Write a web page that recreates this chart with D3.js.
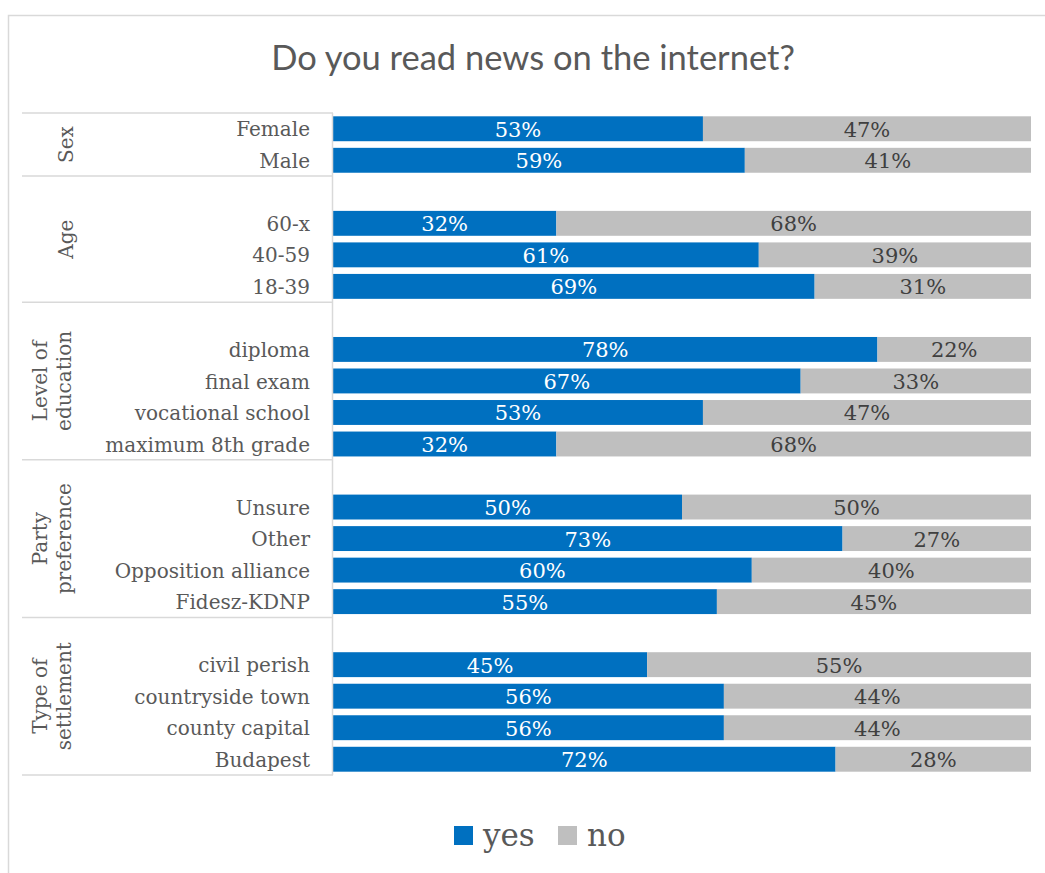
<!DOCTYPE html>
<html>
<head>
<meta charset="utf-8">
<script src="https://cdn.jsdelivr.net/npm/d3@7"></script>
<style>
  html, body { margin: 0; padding: 0; background: #fff; }
  svg { display: block; }
</style>
</head>
<body>
<svg id="chart" width="1045" height="873"></svg>
<script>
// Survey breakdown: share of respondents who read news online, by group
const groupNames = [["Sex"], ["Age"], ["Level of", "education"], ["Party", "preference"], ["Type of", "settlement"]];
const sexCats = ["Female", "Male"];
const sexYes = [53, 59];
const ageCats = ["60-x", "40-59", "18-39"];
const ageYes = [32, 61, 69];
const eduCats = ["diploma", "final exam", "vocational school", "maximum 8th grade"];
const eduYes = [78, 67, 53, 32];
const partyCats = ["Unsure", "Other", "Opposition alliance", "Fidesz-KDNP"];
const partyYes = [50, 73, 60, 55];
const settleCats = ["civil perish", "countryside town", "county capital", "Budapest"];
const settleYes = [45, 56, 56, 72];
const seriesNames = ["yes", "no"];
const seriesColors = ["#0070C0", "#BFBFBF"];

const groupCats = [sexCats, ageCats, eduCats, partyCats, settleCats];
const groupYes = [sexYes, ageYes, eduYes, partyYes, settleYes];

// Build the row list: each group after the first starts with an empty spacer row
const rows = [];
groupCats.forEach((cats, gi) => {
  if (gi > 0) rows.push({ id: "gap" + gi, group: gi, label: "", yes: null });
  cats.forEach((c, i) => {
    const yes = groupYes[gi][i];
    rows.push({ id: "r" + gi + "_" + i, group: gi, label: c, yes: yes, no: 100 - yes });
  });
});

const svg = d3.select("#chart");
const W = 1045, H = 873;
const plot = { left: 333, right: 1031, top: 113, bottom: 775 };
const axisLeft = 22;
const gridColor = "#D9D9D9";
const textColor = "#595959";
const serif = "'DejaVu Serif', serif";

// Chart frame (clipped by the page on the right and bottom)
svg.append("path")
  .attr("d", `M8.5,${H + 2} V15.5 H${W + 2}`)
  .attr("fill", "none").attr("stroke", gridColor).attr("stroke-width", 1.5);

// Title
svg.append("text")
  .attr("x", 533).attr("y", 70)
  .attr("text-anchor", "middle")
  .attr("font-family", "Lato, sans-serif")
  .attr("font-size", 34.5)
  .attr("fill", textColor)
  .text("Do you read news on the internet?");

const x = d3.scaleLinear().domain([0, 100]).range([plot.left, plot.right]);
const y = d3.scaleBand().domain(rows.map(r => r.id)).range([plot.top, plot.bottom]).paddingInner(0.21).paddingOuter(0.105);

// Stacked bars
const stack = d3.stack().keys(seriesNames);
const dataRows = rows.filter(r => r.yes !== null);
const layers = stack(dataRows);

layers.forEach((layer, li) => {
  const g = svg.append("g");
  g.selectAll("rect").data(layer).join("rect")
    .attr("x", d => x(d[0]))
    .attr("width", d => x(d[1]) - x(d[0]))
    .attr("y", d => y(d.data.id))
    .attr("height", y.bandwidth())
    .attr("fill", seriesColors[li]);
  g.selectAll("text").data(layer).join("text")
    .attr("x", d => (x(d[0]) + x(d[1])) / 2)
    .attr("y", d => y(d.data.id) + y.bandwidth() / 2)
    .attr("dy", "0.38em")
    .attr("text-anchor", "middle")
    .attr("font-family", serif)
    .attr("font-size", 21)
    .attr("fill", li === 0 ? "#FFFFFF" : "#404040")
    .text(d => (d[1] - d[0]) + "%");
});

// Category axis with group brackets
const axis = svg.append("g");
axis.append("line")
  .attr("x1", plot.left - 0.5).attr("x2", plot.left - 0.5)
  .attr("y1", plot.top).attr("y2", plot.bottom)
  .attr("stroke", gridColor).attr("stroke-width", 1.5);

const step = y.step();
const groupBounds = groupCats.map((cats, gi) => {
  const rs = rows.filter(r => r.group === gi);
  const top = y(rs[0].id) - y.paddingInner() * step / 2;
  const bottom = y(rs[rs.length - 1].id) + y.bandwidth() + y.paddingInner() * step / 2;
  return { top, bottom };
});
const boundaries = [groupBounds[0].top].concat(groupBounds.map(b => b.bottom));
axis.selectAll("line.sep").data(boundaries).join("line")
  .attr("class", "sep")
  .attr("x1", axisLeft).attr("x2", plot.left)
  .attr("y1", d => d).attr("y2", d => d)
  .attr("stroke", gridColor).attr("stroke-width", 1.5);

// Category labels
axis.selectAll("text.cat").data(rows.filter(r => r.label)).join("text")
  .attr("class", "cat")
  .attr("x", 310)
  .attr("y", d => y(d.id) + y.bandwidth() / 2)
  .attr("dy", "0.38em")
  .attr("text-anchor", "end")
  .attr("font-family", serif)
  .attr("font-size", 20)
  .attr("fill", textColor)
  .text(d => d.label);

// Rotated group labels
groupNames.forEach((lines, gi) => {
  const cy = (groupBounds[gi].top + groupBounds[gi].bottom) / 2;
  const cx = lines.length === 1 ? 66 : 52;
  const t = axis.append("text")
    .attr("transform", `translate(${cx},${cy}) rotate(-90)`)
    .attr("text-anchor", "middle")
    .attr("font-family", serif)
    .attr("font-size", 20)
    .attr("fill", textColor);
  const lh = 24;
  lines.forEach((ln, li) => {
    t.append("tspan")
      .attr("x", 0)
      .attr("y", (li - (lines.length - 1) / 2) * lh)
      .attr("dy", "0.36em")
      .text(ln);
  });
});

// Legend
const legend = svg.append("g");
const legendX = [454, 558];
seriesNames.forEach((name, i) => {
  legend.append("rect")
    .attr("x", legendX[i]).attr("y", 826)
    .attr("width", 19).attr("height", 19)
    .attr("fill", seriesColors[i]);
  legend.append("text")
    .attr("x", legendX[i] + 29).attr("y", 846)
    .attr("font-family", serif)
    .attr("font-size", 31)
    .attr("fill", textColor)
    .text(name);
});
</script>
</body>
</html>
